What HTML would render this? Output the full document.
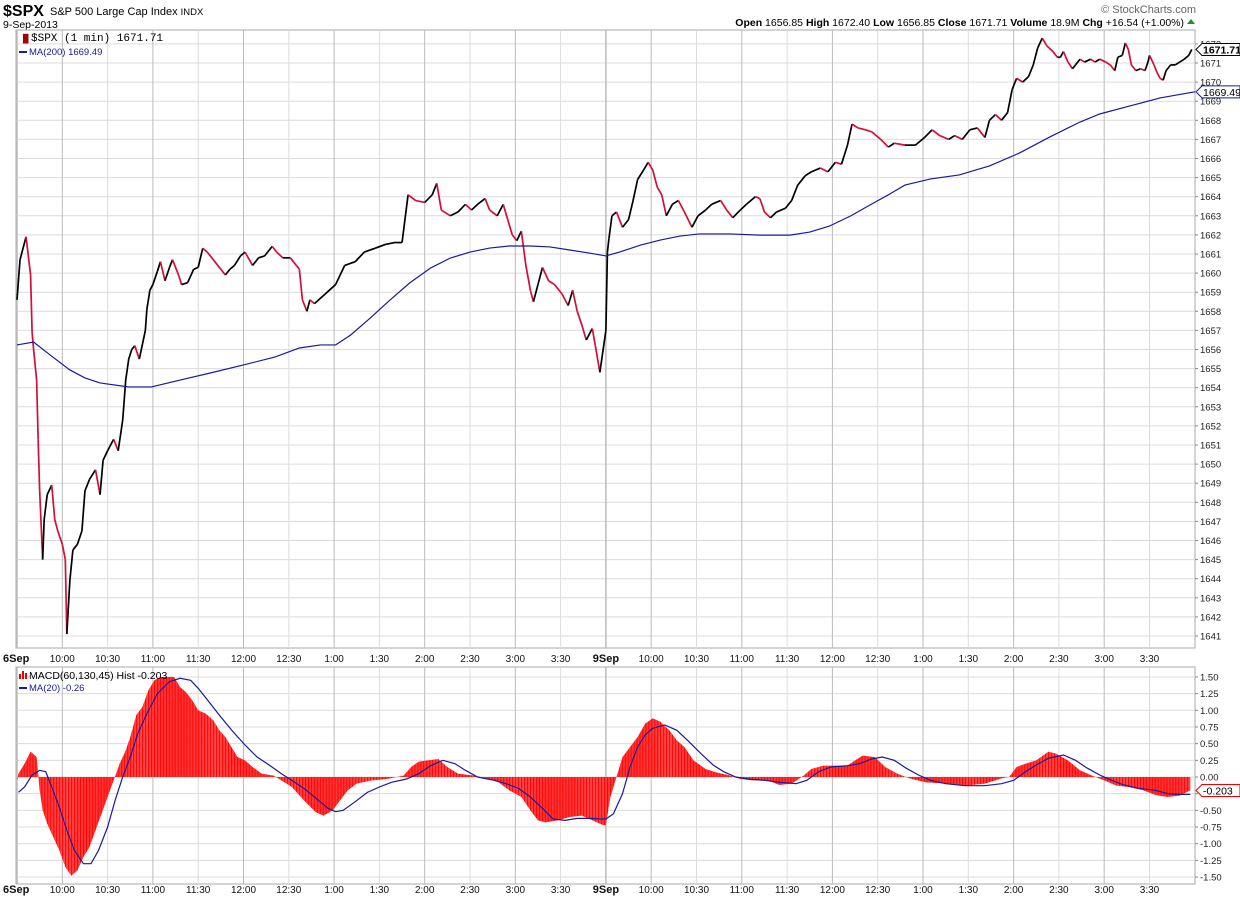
<!DOCTYPE html>
<html><head><meta charset="utf-8"><style>
html,body{margin:0;padding:0;background:#fff;}
svg{display:block;font-family:"Liberation Sans",sans-serif;}
</style></head><body>
<svg id="chart" width="1240" height="900" viewBox="0 0 1240 900" xmlns="http://www.w3.org/2000/svg">
<defs>
<pattern id="stripes" patternUnits="userSpaceOnUse" width="1.51" height="10"><rect x="0" y="0" width="1.1" height="10" fill="#ff0000"/><rect x="1.1" y="0" width="0.41" height="10" fill="#ff8080"/></pattern>
<clipPath id="mainClip"><rect x="16" y="30" width="1179" height="618"/></clipPath>
<clipPath id="macdClip"><rect x="16" y="667" width="1179" height="217"/></clipPath>
</defs>
<g>
<text x="3" y="16" font-size="16" font-weight="bold">$SPX</text>
<text x="50" y="15" font-size="11">S&amp;P 500 Large Cap Index <tspan font-size="9.5">INDX</tspan></text>
<text x="3" y="28" font-size="10.5">9-Sep-2013</text>
<text x="1196" y="13" font-size="11" fill="#666" text-anchor="end">© StockCharts.com</text>
<text x="1184" y="26" font-size="10.5" text-anchor="end"><tspan font-weight="bold">Open</tspan> 1656.85 <tspan font-weight="bold">High</tspan> 1672.40 <tspan font-weight="bold">Low</tspan> 1656.85 <tspan font-weight="bold">Close</tspan> 1671.71 <tspan font-weight="bold">Volume</tspan> 18.9M <tspan font-weight="bold">Chg</tspan> +16.54 (+1.00%)</text>
<polygon points="1187,24 1195,24 1191,19" fill="#2a8a2a"/>
</g>
<g id="grid"></g>
<g id="marks"></g>
<g id="axes"></g>
</svg>
<script>
// ---- data ----
const priceMin = [0,2,6,9,10,11,13,14,15,17,18,20,23,25,27,30,32,33,35,37,40,43,45,48,52,55,57,60,64,67,70,72,74,76,78,81,85,86,88,90,93,95,98,101,103,107,109,113,117,120,123,126,129,133,138,141,144,148,151,156,160,164,169,172,176,181,185,187,189,192,194,197,204,211,217,224,230,237,244,250,255,259,264,270,275,278,281,287,292,297,301,305,310,313,318,322,325,328,331,334,337,340,342,345,348,352,356,361,365,368,371,374,377,381,383,386,
390,391,392,394,397,401,405,408,411,415,418,421,424,427,430,434,438,442,447,451,456,460,466,470,474,479,483,489,492,495,499,503,509,513,517,522,526,532,537,542,546,550,553,557,562,566,572,577,581,588,595,601,606,611,617,621,626,631,636,641,644,648,652,656,659,662,666,670,673,676,679,682,686,689,691,693,696,699,701,704,707,711,714,717,721,724,727,729,732,734,736,738,741,744,747,749,750,753,755,757,759,761,764,767,770,773,776,778];
const priceVal = [1658.6,1660.7,1661.9,1659.9,1656.9,1656.0,1654.4,1651.3,1648.6,1645.0,1647.1,1648.4,1648.9,1647.1,1646.5,1645.8,1645.0,1641.1,1643.9,1645.5,1645.8,1646.5,1648.6,1649.2,1649.7,1648.4,1650.2,1650.7,1651.3,1650.7,1652.3,1654.4,1655.5,1656.0,1656.2,1655.5,1657.0,1658.1,1659.1,1659.4,1660.1,1660.6,1659.6,1660.3,1660.7,1659.9,1659.4,1659.5,1660.2,1660.3,1661.3,1661.1,1660.8,1660.4,1659.9,1660.2,1660.4,1660.9,1661.1,1660.4,1660.8,1660.9,1661.4,1661.1,1660.8,1660.8,1660.4,1660.2,1658.6,1658.0,1658.6,1658.4,1658.9,1659.4,1660.4,1660.6,1661.1,1661.3,1661.5,1661.6,1661.6,1664.1,1663.8,1663.7,1664.1,1664.7,1663.3,1663.0,1663.2,1663.6,1663.3,1663.6,1663.9,1663.3,1663.0,1663.6,1662.8,1662.0,1661.7,1662.2,1660.4,1659.1,1658.5,1659.4,1660.3,1659.6,1659.4,1658.9,1658.3,1659.1,1658.0,1657.3,1656.5,1657.1,1656.2,1654.8,
1657.0,1661.1,1661.8,1663.0,1663.2,1662.4,1662.8,1663.8,1664.9,1665.4,1665.8,1665.4,1664.5,1664.1,1663.0,1663.6,1663.8,1663.2,1662.4,1663.0,1663.3,1663.6,1663.8,1663.3,1662.9,1663.3,1663.6,1664.0,1663.9,1663.2,1662.9,1663.2,1663.4,1663.8,1664.6,1665.1,1665.3,1665.5,1665.3,1665.8,1665.7,1666.7,1667.8,1667.6,1667.5,1667.4,1667.0,1666.6,1666.8,1666.7,1666.7,1667.1,1667.5,1667.2,1667.0,1667.2,1667.0,1667.5,1667.6,1667.1,1668.0,1668.3,1668.0,1668.4,1669.6,1670.2,1670.0,1670.3,1670.9,1671.8,1672.3,1671.9,1671.6,1671.3,1671.3,1671.6,1671.05,1670.7,1670.9,1671.2,1671.05,1671.2,1671.05,1671.2,1671.05,1670.9,1670.6,1671.3,1671.4,1672.05,1671.7,1670.9,1670.6,1670.7,1670.6,1671.05,1671.4,1670.9,1670.5,1670.2,1670.1,1670.6,1670.9,1670.9,1671.05,1671.2,1671.4,1671.71];
const maMin = [0,11,22,35,45,55,74,89,108,128,150,171,187,201,211,221,234,247,260,274,287,300,313,326,340,353,366,379,390,399,413,426,439,452,472,492,512,525,538,552,565,578,588,605,624,644,664,684,704,717,737,757,780];
const maVal = [1656.24,1656.39,1655.71,1654.93,1654.51,1654.25,1654.04,1654.04,1654.40,1654.77,1655.19,1655.61,1656.08,1656.24,1656.24,1656.76,1657.65,1658.59,1659.48,1660.27,1660.79,1661.10,1661.31,1661.42,1661.42,1661.37,1661.21,1661.05,1660.90,1661.10,1661.47,1661.73,1661.94,1662.05,1662.05,1661.99,1661.99,1662.15,1662.46,1662.99,1663.57,1664.14,1664.61,1664.93,1665.14,1665.61,1666.29,1667.13,1667.91,1668.33,1668.75,1669.17,1669.49];
const histMin = [0,1,5,9,13,15,17,20,24,28,32,36,40,44,48,52,56,60,64,68,72,75,79,83,87,91,95,104,108,112,116,120,125,130,134,138,142,146,151,156,162,170,175,182,190,198,203,209,214,219,225,235,245,256,261,266,272,279,285,292,303,311,319,326,334,340,345,350,358,366,374,381,388,
390,393,397,401,406,411,416,421,426,432,437,442,448,456,463,471,479,487,497,505,513,521,526,534,542,550,555,560,568,575,583,591,602,615,628,641,652,657,662,668,675,683,688,696,704,712,720,728,736,746,754,762,770,777];
const histVal = [-0.05,0.05,0.2,0.38,0.3,-0.2,-0.5,-0.7,-0.9,-1.1,-1.35,-1.48,-1.4,-1.2,-1.05,-0.8,-0.55,-0.3,-0.05,0.2,0.4,0.6,0.93,1.05,1.3,1.45,1.5,1.5,1.35,1.27,1.15,1.0,0.95,0.85,0.7,0.6,0.45,0.3,0.25,0.15,0.05,0.02,-0.05,-0.15,-0.35,-0.53,-0.58,-0.5,-0.35,-0.2,-0.1,-0.05,-0.03,0.02,0.15,0.23,0.25,0.27,0.15,0.05,0.02,-0.02,-0.08,-0.2,-0.3,-0.5,-0.65,-0.68,-0.65,-0.6,-0.58,-0.65,-0.72,
-0.72,-0.3,0,0.3,0.45,0.6,0.8,0.88,0.83,0.7,0.55,0.45,0.25,0.12,0.07,0.03,-0.03,-0.05,-0.05,-0.12,-0.1,0.02,0.12,0.17,0.17,0.17,0.25,0.32,0.3,0.15,0.05,-0.02,-0.08,-0.1,-0.13,-0.1,-0.02,0,0.15,0.2,0.25,0.38,0.35,0.25,0.1,0.02,-0.05,-0.13,-0.15,-0.2,-0.27,-0.3,-0.28,-0.2];
const sigMin = [1,5,10,15,19,23,28,33,38,44,49,54,60,65,70,75,80,86,93,101,108,115,120,127,135,143,151,159,167,175,182,190,198,206,211,216,224,232,240,248,258,266,274,282,290,297,305,316,324,332,340,348,355,363,371,379,387,
390,395,401,406,411,416,421,429,437,445,453,461,468,476,484,495,505,516,523,531,539,550,558,566,573,581,589,597,605,615,628,641,652,660,668,675,683,693,701,709,717,725,733,743,754,762,770,777];
const sigVal = [-0.23,-0.15,0.03,0.1,0.08,-0.15,-0.45,-0.8,-1.1,-1.3,-1.3,-1.1,-0.75,-0.35,0,0.3,0.65,0.95,1.25,1.43,1.48,1.45,1.33,1.13,0.9,0.68,0.48,0.3,0.18,0.05,-0.05,-0.17,-0.32,-0.47,-0.52,-0.5,-0.37,-0.23,-0.15,-0.08,-0.03,0.05,0.17,0.25,0.2,0.1,0,-0.05,-0.1,-0.17,-0.3,-0.47,-0.63,-0.65,-0.62,-0.62,-0.63,
-0.63,-0.55,-0.25,0.15,0.45,0.63,0.73,0.78,0.7,0.53,0.35,0.18,0.08,0,-0.03,-0.05,-0.08,-0.1,-0.05,0.08,0.15,0.17,0.2,0.27,0.3,0.25,0.13,0.03,-0.05,-0.1,-0.13,-0.13,-0.1,-0.05,0.08,0.18,0.28,0.33,0.25,0.13,0.03,-0.05,-0.12,-0.17,-0.2,-0.25,-0.26,-0.26];
const priceTicks = [1641,1642,1643,1644,1645,1646,1647,1648,1649,1650,1651,1652,1653,1654,1655,1656,1657,1658,1659,1660,1661,1662,1663,1664,1665,1666,1667,1668,1669,1670,1671,1672];
const macdTicks = [1.5,1.25,1.0,0.75,0.5,0.25,0,-0.25,-0.5,-0.75,-1.0,-1.25,-1.5];
const timeTickMin = [0,30,60,90,120,150,180,210,240,270,300,330,360,390,420,450,480,510,540,570,600,630,660,690,720,750];
const timeTickLabels = ["6Sep","10:00","10:30","11:00","11:30","12:00","12:30","1:00","1:30","2:00","2:30","3:00","3:30","9Sep","10:00","10:30","11:00","11:30","12:00","12:30","1:00","1:30","2:00","2:30","3:00","3:30"];
const lastPrice = 1671.71, lastMA = 1669.49, lastHist = -0.203;

// ---- scales ----
const X0 = 17, PXM = 1.51;
const xS = m => X0 + m * PXM;
const yP = p => 636 - (p - 1641) * 19.1;
const yM = v => 777 - v * 66.7;
const NS = "http://www.w3.org/2000/svg";
function mk(tag, attrs, parent) { const e = document.createElementNS(NS, tag); for (const k in attrs) e.setAttribute(k, attrs[k]); parent.appendChild(e); return e; }
const grid = document.getElementById('grid'), marks = document.getElementById('marks'), axes = document.getElementById('axes');

const mainPanel = mk('rect', {x:16, y:30, width:1179, height:618, fill:'#fff', stroke:'#aaa'}, grid);


const macdPanel = mk('rect', {x:16, y:667, width:1179, height:217, fill:'#fff', stroke:'#aaa'}, grid);



priceTicks.forEach(p => {
  const y = yP(p);
  const l = mk('line', {x1:16, x2:1195, y1:y, y2:y, stroke:'#dcdcdc', 'stroke-width':1}, grid);
  
  
  mk('line', {x1:1195, x2:1198, y1:y, y2:y, stroke:'#888'}, axes);
  const t = mk('text', {x:1200, y:y + 3.5, 'font-size':9.5, fill:'#222'}, axes);
  t.textContent = p;
  
  
});
macdTicks.forEach(v => {
  const y = yM(v);
  const l = mk('line', {x1:16, x2:1195, y1:y, y2:y, stroke:'#dcdcdc', 'stroke-width':1}, grid);
  
  
  mk('line', {x1:1195, x2:1198, y1:y, y2:y, stroke:'#888'}, axes);
  const t = mk('text', {x:1200, y:y + 3.5, 'font-size':9.5, fill:'#222'}, axes);
  t.textContent = v.toFixed(2);
  
  
});
timeTickMin.forEach((m, i) => {
  const x = xS(m);
  const dark = (m % 390 === 0) || ((m % 390) % 60 === 30);
  [[30,648],[667,884]].forEach(r => {
    const l = mk('line', {x1:x, x2:x, y1:r[0], y2:r[1], stroke: dark ? '#bbb' : '#dcdcdc', 'stroke-width': (m % 390 === 0) ? 1.5 : 1}, grid);
    
    
  });
  const bold = m % 390 === 0;
  [662, 893].forEach(yy => {
    const t = mk('text', {x: m === 0 ? 3 : x, y: yy, 'font-size': bold ? 11 : 10, 'font-weight': bold ? 'bold' : 'normal', 'text-anchor': m === 0 ? 'start' : 'middle', fill:'#111'}, axes);
    t.textContent = timeTickLabels[i];
    
    
  });
});

const pg = mk('g', {'clip-path':'url(#mainClip)'}, marks);


for (let i = 0; i + 1 < priceMin.length; i++) {
  const down = priceVal[i + 1] < priceVal[i];
  const seg = mk('line', {x1:xS(priceMin[i]), y1:yP(priceVal[i]), x2:xS(priceMin[i + 1]), y2:yP(priceVal[i + 1]), stroke: down ? '#d0103a' : '#000', 'stroke-width':1.7}, pg);
  
  
}
const ma = mk('polyline', {points: maMin.map((m, i) => xS(m) + ',' + yP(maVal[i])).join(' '), fill:'none', stroke:'#1a1a9a', 'stroke-width':1.2}, pg);



const mg = mk('g', {'clip-path':'url(#macdClip)'}, marks);


let pts = xS(histMin[0]) + ',' + yM(0) + ' ';
pts += histMin.map((m, i) => xS(m) + ',' + yM(histVal[i])).join(' ');
pts += ' ' + xS(histMin[histMin.length - 1]) + ',' + yM(0);
const hist = mk('polygon', {points: pts, fill:'url(#stripes)'}, mg);


const sig = mk('polyline', {points: sigMin.map((m, i) => xS(m) + ',' + yM(sigVal[i])).join(' '), fill:'none', stroke:'#1a1a9a', 'stroke-width':1.2}, mg);



function tag(y, txt, color, name, bold) {
  const g = mk('g', {}, axes);
  
  
  mk('polygon', {points: `1196,${y} 1202,${y-6} 1240,${y-6} 1240,${y+6} 1202,${y+6}`, fill:'#fff', stroke:color, 'stroke-width':1}, g);
  const t = mk('text', {x:1203, y:y + 4, 'font-size':10.5, 'font-weight': bold ? 'bold' : 'normal', fill:'#000'}, g);
  t.textContent = txt;
}
tag(yP(lastMA), lastMA.toFixed(2), '#1a1a9a', 'ma200-value-tag', false);
tag(yP(lastPrice), lastPrice.toFixed(2), '#000', 'price-value-tag', true);
tag(yM(lastHist), lastHist.toFixed(3), '#e00', 'macd-value-tag', false);
</script>
<script>
const svg = document.getElementById('chart');
const NS2 = "http://www.w3.org/2000/svg";
function addLegend(html){ const g = document.createElementNS(NS2,'g'); g.innerHTML = html; svg.appendChild(g); return g; }
const lg1 = addLegend('<text x="20" y="41" font-size="8" fill="#900">▐▌</text><text x="31" y="41" font-size="11" font-family="Liberation Mono, monospace">$SPX (1 min) 1671.71</text><line x1="19" y1="52" x2="27" y2="52" stroke="#1a1a9a" stroke-width="2"/><text x="29" y="55" font-size="9.5" fill="#1a1a9a">MA(200) 1669.49</text>');


const lg2 = addLegend('<rect x="19" y="674" width="2" height="5" fill="#e00"/><rect x="22" y="671" width="2" height="8" fill="#e00"/><rect x="25" y="673" width="2" height="6" fill="#e00"/><text x="29" y="679" font-size="10.5">MACD(60,130,45) Hist -0.203</text><line x1="19" y1="688" x2="27" y2="688" stroke="#1a1a9a" stroke-width="2"/><text x="29" y="691" font-size="9.5" fill="#1a1a9a">MA(20) -0.26</text>');


</script>
</body></html>
